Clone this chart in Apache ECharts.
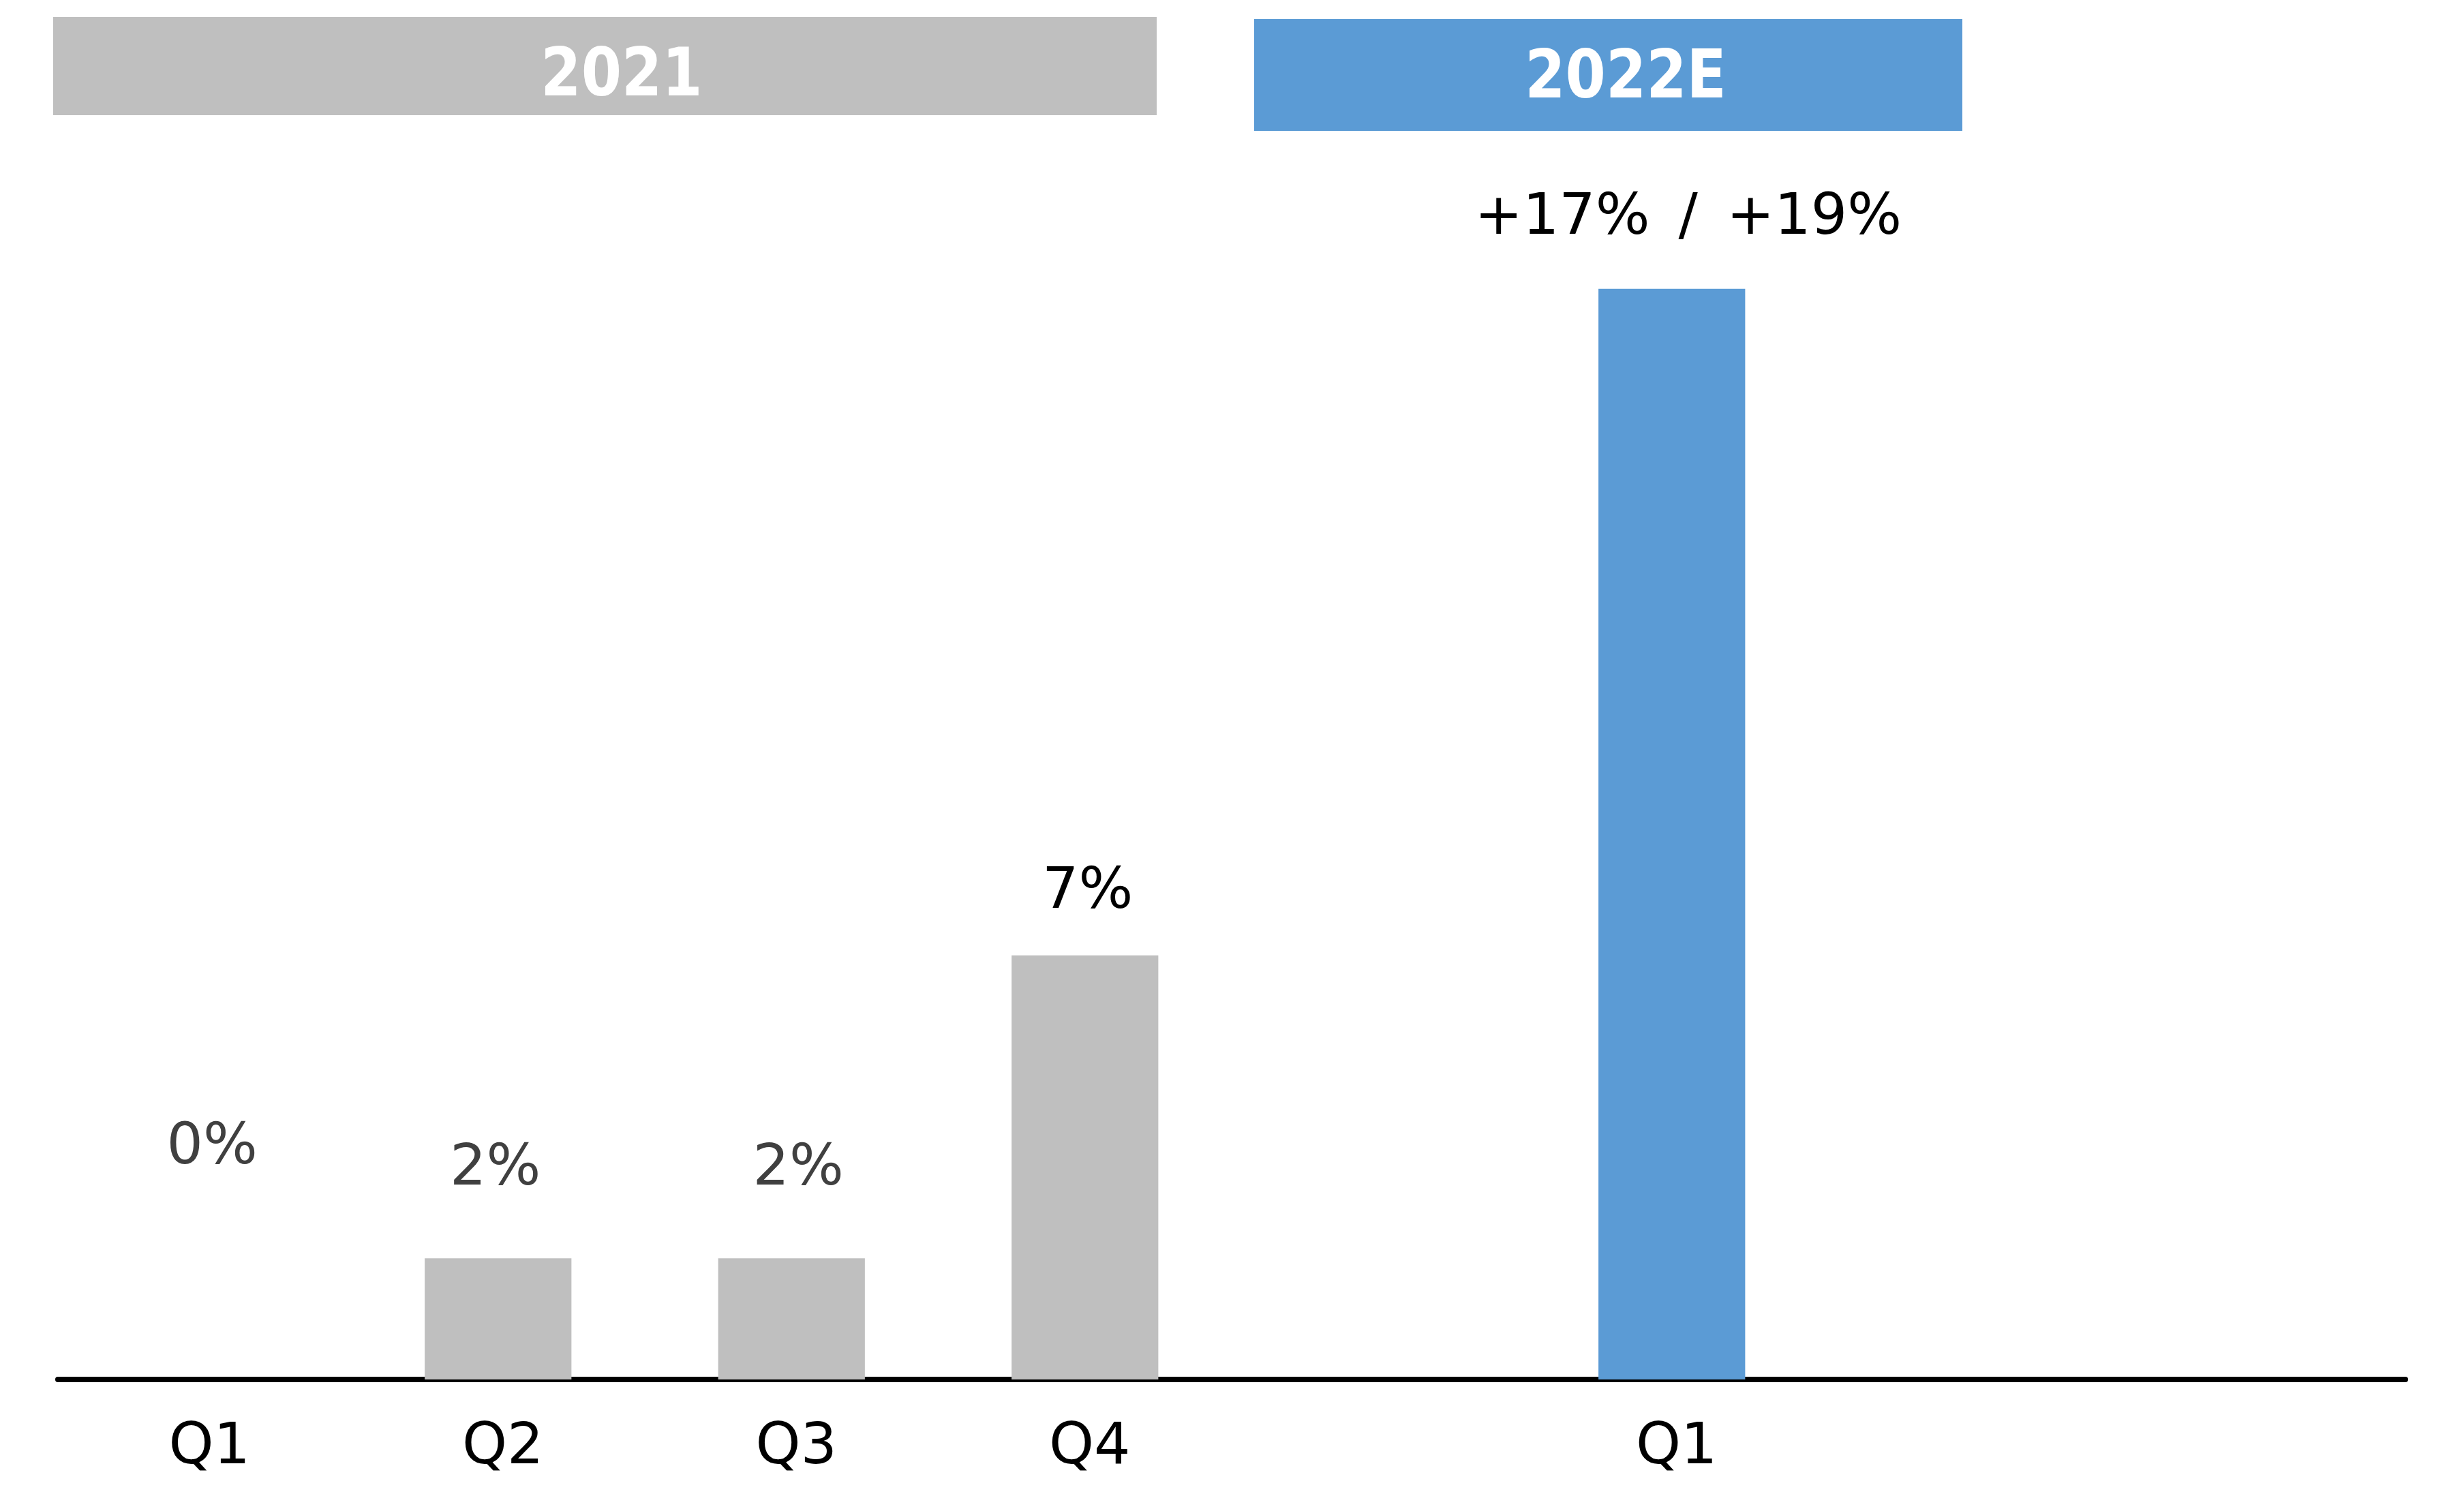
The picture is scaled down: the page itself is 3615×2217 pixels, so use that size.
<!DOCTYPE html>
<html>
<head>
<meta charset="utf-8">
<script src="https://cdn.jsdelivr.net/npm/echarts@6/dist/echarts.min.js"></script>
<style>
html,body{margin:0;padding:0;background:#fff;}
#chart{width:3615px;height:2217px;}
</style>
</head>
<body>
<div id="chart"></div>
<script>
// ---- data ----
const categories = ['Q1', 'Q2', 'Q3', 'Q4', '', 'Q1', '', ''];
const periodGroup = ['2021', '2021', '2021', '2021', '', '2022E', '', ''];
const growthValues = [0, 2, 2, 7, null, 18, null, null];
const growthLabels = ['0%', '2%', '2%', '7%', '', '+17%\u2002/\u2002+19%', '', ''];
const headerLabels = ['2021', '2022E'];

// ---- styles ----
const groupColors = {'2021': '#bfbfbf', '2022E': '#5b9bd5'};
const labelColors = ['#404040', '#404040', '#404040', '#000000', '#000000', '#000000', '#000000', '#000000'];
const labelDistance = [297, 88, 88, 50, 50, 61, 50, 50];
const labelOffsetX = [11, -4, 10, 4, 0, 24, 0, 0];
const FONT = '"DejaVu Sans", sans-serif';

const seriesData = growthValues.map((v, i) => ({
  value: v,
  itemStyle: {color: groupColors[periodGroup[i]] || '#bfbfbf'},
  label: {
    color: labelColors[i],
    distance: labelDistance[i],
    offset: [labelOffsetX[i], 0],
    formatter: () => growthLabels[i]
  }
}));

const chart = echarts.init(document.getElementById('chart'), null, {renderer: 'canvas'});
chart.setOption({
  animation: false,
  backgroundColor: '#ffffff',
  grid: {left: 85, right: 86, top: 246, bottom: 193, containLabel: false},
  xAxis: {
    type: 'category',
    data: categories,
    axisLine: {show: true, lineStyle: {color: '#000', width: 8}},
    axisTick: {show: false},
    axisLabel: {color: '#000', fontSize: 84, fontFamily: FONT, margin: 59, interval: 0, padding: [0, 0, 0, 14]}
  },
  yAxis: {
    type: 'value', min: 0, max: 20, show: false,
    splitLine: {show: false}
  },
  series: [{
    type: 'bar',
    data: seriesData,
    barWidth: '50%',
    label: {
      show: true,
      position: 'top',
      fontSize: 84,
      fontFamily: FONT,
      lineHeight: 84
    }
  }],
  graphic: [
    {type: 'rect', shape: {x: 78, y: 25, width: 1619, height: 144}, style: {fill: groupColors['2021']}, z: 10},
    {type: 'rect', shape: {x: 1840, y: 28, width: 1039, height: 164}, style: {fill: groupColors['2022E']}, z: 10},
    {type: 'text', x: 912, y: 115, scaleX: 0.87, z: 11,
      style: {text: headerLabels[0], fill: '#fff', font: 'bold 98px ' + FONT, align: 'center', verticalAlign: 'middle'}},
    {type: 'text', x: 2385, y: 118, scaleX: 0.87, z: 11,
      style: {text: headerLabels[1], fill: '#fff', font: 'bold 98px ' + FONT, align: 'center', verticalAlign: 'middle'}}
  ]
});
</script>
</body>
</html>
